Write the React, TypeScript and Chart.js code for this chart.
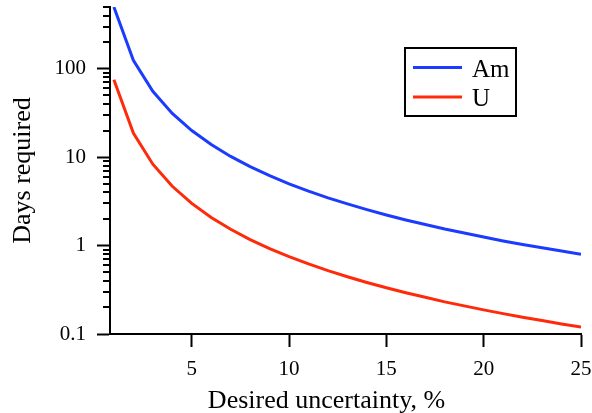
import React, { useEffect, useRef } from "react";
import { Chart, registerables } from "chart.js";

Chart.register(...registerables);

const xValues = [1, 2, 3, 4, 5, 6, 7, 8, 9, 10, 11, 12, 13, 14, 15, 16, 17, 18, 19, 20, 21, 22, 23, 24, 25];
const amDays = [500, 125, 55.6, 31.25, 20, 13.9, 10.2, 7.81, 6.17, 5.0, 4.13, 3.47, 2.96, 2.55, 2.22, 1.95, 1.73, 1.54, 1.39, 1.25, 1.13, 1.03, 0.945, 0.868, 0.8];
const uDays = [75, 18.75, 8.33, 4.69, 3.0, 2.08, 1.53, 1.17, 0.926, 0.75, 0.62, 0.521, 0.444, 0.383, 0.333, 0.293, 0.26, 0.231, 0.208, 0.1875, 0.17, 0.155, 0.142, 0.13, 0.12];
const seriesNames = ["Am", "U"];
const seriesColors = ["#1B3BFF", "#FF2A0A"];
const xTicks = [5, 10, 15, 20, 25];
const yMajorTicks = [0.1, 1, 10, 100];
const yMinorTicks = [0.2, 0.3, 0.4, 0.5, 0.6, 0.7, 0.8, 0.9, 2, 3, 4, 5, 6, 7, 8, 9, 20, 30, 40, 50, 60, 70, 80, 90, 200, 300, 400, 500];
const xTitle = "Desired uncertainty, %";
const yTitle = "Days required";

const FONT = "'Liberation Serif', 'Times New Roman', serif";

export default function App() {
  const canvasRef = useRef<HTMLCanvasElement | null>(null);

  useEffect(() => {
    const canvas = canvasRef.current;
    if (!canvas) return;

    Chart.defaults.font.family = FONT;
    Chart.defaults.font.size = 21;
    Chart.defaults.color = "#000";

    const extras = {
      id: "extras",
      afterDraw(chart: any) {
        const ctx = chart.ctx;
        const ys = chart.scales.y;
        const area = chart.chartArea;
        ctx.save();
        ctx.strokeStyle = "#000";
        ctx.lineWidth = 2;
        yMinorTicks.forEach((v) => {
          const py = Math.round(ys.getPixelForValue(v));
          ctx.beginPath();
          ctx.moveTo(area.left - 7, py);
          ctx.lineTo(area.left, py);
          ctx.stroke();
        });
        ctx.fillStyle = "#000";
        ctx.font = `26px ${FONT}`;
        ctx.textAlign = "center";
        ctx.textBaseline = "alphabetic";
        ctx.fillText(xTitle, (area.left + area.right) / 2 - 19, area.bottom + 74);
        const lx = 405, ly = 48, lw = 111, lh = 68;
        ctx.lineWidth = 2;
        ctx.strokeRect(lx, ly, lw, lh);
        ctx.textAlign = "left";
        ctx.font = `25px ${FONT}`;
        seriesNames.forEach((name, i) => {
          const rowY = ly + 19.5 + i * 29.5;
          ctx.strokeStyle = seriesColors[i];
          ctx.lineWidth = 3;
          ctx.beginPath();
          ctx.moveTo(lx + 8, rowY);
          ctx.lineTo(lx + 57, rowY);
          ctx.stroke();
          ctx.fillStyle = "#000";
          ctx.fillText(name, lx + 67, rowY + 9);
        });
        ctx.restore();
      },
    };

    const tickFont = { family: FONT, size: 21, style: "normal" as const, weight: "normal" as const, lineHeight: 1.2 };

    const chart = new Chart(canvas, {
      type: "line",
      data: {
        datasets: seriesNames.map((name, i) => ({
          label: name,
          data: xValues.map((x, j) => ({ x, y: (i === 0 ? amDays : uDays)[j] })),
          borderColor: seriesColors[i],
          backgroundColor: seriesColors[i],
          borderWidth: 3,
          pointRadius: 0,
          tension: 0,
          fill: false,
        })),
      },
      options: {
        animation: false,
        responsive: false,
        maintainAspectRatio: false,
        font: tickFont,
        layout: { padding: { top: 7, right: 11, left: 0, bottom: 0 } },
        plugins: {
          legend: { display: false },
          tooltip: { enabled: false },
        },
        scales: {
          x: {
            type: "linear",
            min: 0.8,
            max: 25,
            afterBuildTicks: (scale: any) => {
              scale.ticks = xTicks.map((v) => ({ value: v }));
            },
            afterFit: (scale: any) => {
              scale.height = 79;
              scale.paddingLeft = 0;
              scale.paddingRight = 0;
            },
            ticks: {
              font: tickFont,
              color: "#000",
              padding: 10,
              maxRotation: 0,
              autoSkip: false,
            },
            grid: {
              drawOnChartArea: false,
              drawTicks: true,
              tickLength: 13,
              tickWidth: 2,
              tickColor: "#000",
            },
            border: { display: true, color: "#000", width: 2 },
          },
          y: {
            type: "logarithmic",
            min: 0.1,
            max: 500,
            afterBuildTicks: (scale: any) => {
              scale.ticks = yMajorTicks.map((v) => ({ value: v }));
            },
            afterFit: (scale: any) => {
              scale.width = 110;
              scale.paddingTop = 0;
              scale.paddingBottom = 0;
            },
            ticks: {
              font: tickFont,
              color: "#000",
              padding: 11,
              autoSkip: false,
              callback: (v: any) => String(v),
            },
            grid: {
              drawOnChartArea: false,
              drawTicks: true,
              tickLength: 13,
              tickWidth: 2,
              tickColor: "#000",
            },
            border: { display: true, color: "#000", width: 2 },
            title: {
              display: true,
              text: yTitle,
              font: { family: FONT, size: 26 },
              color: "#000",
              padding: { top: 8, bottom: 0 },
            },
          },
        },
      },
      plugins: [extras],
    });

    return () => chart.destroy();
  }, []);

  return (
    <div style={{ position: "fixed", left: 0, top: 0, width: 592, height: 413, background: "#fff" }}>
      <canvas ref={canvasRef} width={592} height={413} style={{ width: 592, height: 413, display: "block" }} />
    </div>
  );
}
